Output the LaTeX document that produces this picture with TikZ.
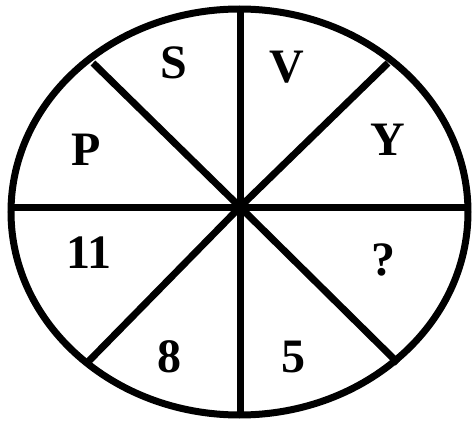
\documentclass[tikz,border=0pt]{standalone}
\usepackage{fontspec}
\setmainfont{Liberation Serif}
\usetikzlibrary{calc}
\tikzset{
    rimline/.style={line width=7pt, black},
    spokeline/.style={line width=7pt, black, line cap=butt},
    celltext/.style={font=\fontsize{48}{48}\selectfont\bfseries, inner sep=0pt}
}
\begin{document}
\begin{tikzpicture}[x=1pt,y=-1pt]
\useasboundingbox (0,0) rectangle (472,423);

% rim
\draw[rimline] (239.5,212) ellipse (228.5 and 203);

\path
    (240,207) coordinate (o)
    (240,11) coordinate (n)
    (240,416) coordinate (s)
    (11,207) coordinate (w)
    (468,207) coordinate (e)
    (93,63) coordinate (nw)
    (388,63) coordinate (ne)
    (85,365) coordinate (sw)
    (398,363) coordinate (se);

% spokes
\draw[spokeline] (n) -- (s);
\draw[spokeline] (w) -- (e);
\draw[spokeline] (nw) -- (o) -- (se);
\draw[spokeline] (ne) -- (o) -- (sw);

% labels
\node[celltext] (lS) at (174,63) {S};
\node[celltext] (lV) at (287,67) {V};
\node[celltext] (lP) at (86,150) {P};
\node[celltext] (lY) at (388,140) {Y};
\node[celltext] (l11) at (89,253) {11};
\node[celltext] (lq) at (383,260) {?};
\node[celltext] (l8) at (169,357) {8};
\node[celltext] (l5) at (293,357) {5};
\end{tikzpicture}
\end{document}
